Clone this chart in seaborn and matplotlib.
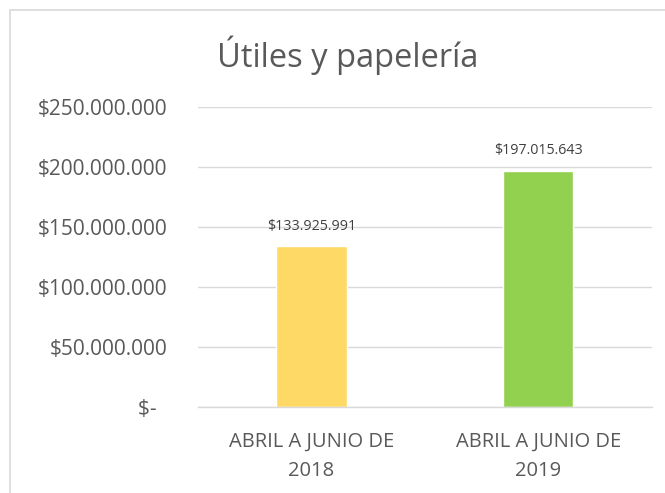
import matplotlib
matplotlib.use('Agg')
import matplotlib.pyplot as plt
import seaborn as sns
import pandas as pd
from matplotlib.patches import Rectangle

# Dades del gràfic
categories = ['ABRIL A JUNIO DE\n2018', 'ABRIL A JUNIO DE\n2019']
valors = [133925991, 197015643]
colors = ['#FFD966', '#92D050']
yticks = [0, 50000000, 100000000, 150000000, 200000000, 250000000]
ytick_labels = ['$-  ', '$50.000.000', '$100.000.000', '$150.000.000',
                '$200.000.000', '$250.000.000']
titol = 'Útiles y papelería'

data = pd.DataFrame({'periode': categories, 'valor': valors})

sns.set_style('white')
plt.rcParams['font.family'] = ['Open Sans', 'DejaVu Sans']

fig = plt.figure(figsize=(6.65, 4.93), dpi=100)
ax = fig.add_axes([0.298, 0.1744, 0.682, 0.6086])

sns.barplot(data=data, x='periode', y='valor', hue='periode', palette=colors,
            width=0.31, legend=False, ax=ax, saturation=1)

ax.set_ylim(0, 250000000)
ax.set_yticks(yticks)
ax.set_yticklabels(ytick_labels, fontsize=15, color='#595959')
ax.tick_params(axis='x', labelsize=14.5, labelcolor='#595959', pad=17.5, length=0)
ax.tick_params(axis='y', pad=22, length=0)
for lbl in ax.get_xticklabels():
    lbl.set_linespacing(1.65)
ax.set_xlabel('')
ax.set_ylabel('')
ax.grid(axis='y', color='#D9D9D9', linewidth=1)
ax.set_axisbelow(True)
for s in ['top', 'right', 'left']:
    ax.spines[s].set_visible(False)
ax.spines['bottom'].set_color('#D9D9D9')
ax.spines['bottom'].set_linewidth(1)

for cont in ax.containers:
    ax.bar_label(cont, labels=['$' + format(int(v), ',').replace(',', '.') for v in cont.datavalues],
                 padding=9, fontsize=10.3, color='#404040')

fig.text(0.523, 0.888, titol, ha='center', va='center', fontsize=23.5, color='#595959')

# Vora del gràfic
fig.patches.append(Rectangle((10 / 665, -0.5), 2, 1.5 - 10 / 493, transform=fig.transFigure,
                             fill=False, edgecolor='#D9D9D9', linewidth=1.2))

fig.savefig('out.png', dpi=100)
plt.close()
